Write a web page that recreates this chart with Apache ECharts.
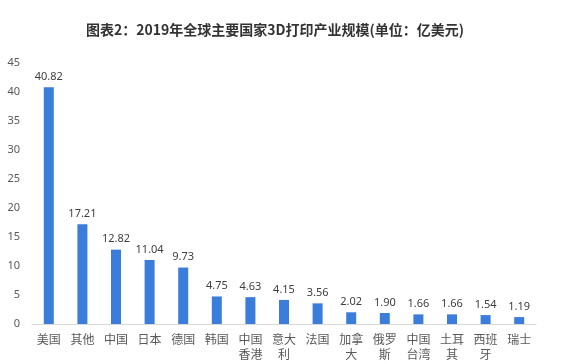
<!DOCTYPE html>
<html>
<head>
<meta charset="utf-8">
<script src="https://cdn.jsdelivr.net/npm/echarts@6/dist/echarts.min.js"></script>
<style>
html,body{margin:0;padding:0;background:#fff;}
#chart{width:569px;height:364px;}
</style>
</head>
<body>
<div id="chart"></div>
<script>
var titleText = '图表2：2019年全球主要国家3D打印产业规模(单位：亿美元)';
var categories = ['美国','其他','中国','日本','德国','韩国','中国\n香港','意大\n利','法国','加拿\n大','俄罗\n斯','中国\n台湾','土耳\n其','西班\n牙','瑞士'];
var values = [40.82,17.21,12.82,11.04,9.73,4.75,4.63,4.15,3.56,2.02,1.90,1.66,1.66,1.54,1.19];
var yTicks = {min:0, max:45, interval:5};

var chart = echarts.init(document.getElementById('chart'), null, {renderer:'canvas'});
chart.setOption({
  animation:false,
  title:{
    text:titleText,
    left:81,
    top:18,
    textStyle:{fontSize:14,fontWeight:'bold',color:'#333',fontFamily:'Noto Sans CJK SC'}
  },
  grid:{left:32,right:33,top:63,bottom:40,containLabel:false},
  xAxis:{
    type:'category',
    data:categories,
    axisLine:{lineStyle:{color:'#d9d9d9'}},
    axisTick:{show:false},
    axisLabel:{color:'#595959',fontSize:12,interval:0,lineHeight:15,margin:8,fontFamily:'Noto Sans CJK SC'}
  },
  yAxis:{
    type:'value',
    min:yTicks.min,max:yTicks.max,interval:yTicks.interval,
    axisLine:{show:false},
    axisTick:{show:false},
    splitLine:{show:false},
    axisLabel:{color:'#595959',fontSize:11,margin:12,fontFamily:'Noto Sans'}
  },
  series:[{
    type:'bar',
    data:values,
    barWidth:10,
    itemStyle:{color:'#3a7ddb'},
    label:{show:true,position:'top',distance:5,color:'#404040',fontSize:11,fontFamily:'Noto Sans',
      formatter:function(p){return p.value.toFixed(2);}}
  }]
});
</script>
</body>
</html>
